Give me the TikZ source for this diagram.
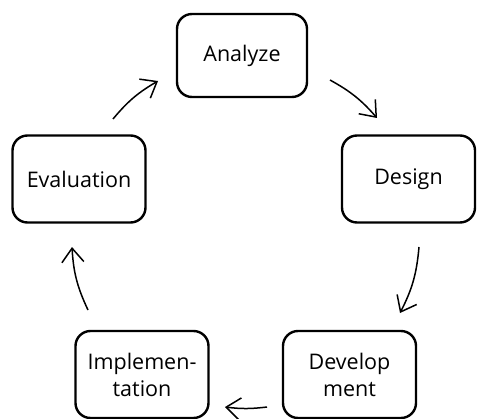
\documentclass[tikz,border=0pt]{standalone}
\usepackage{fontspec}
\setmainfont{Open Sans}
\usetikzlibrary{calc,arrows.meta}

\begin{document}
\begin{tikzpicture}[
		x=1pt,y=1pt,
		stage/.style={draw,rounded corners=15,line width=2.4,align=center,
			minimum width=133,minimum height=87,font=\fontsize{21.5}{27}\selectfont},
		cyc/.style={line width=1.5,-{Straight Barb[length=14,width=22,line width=1.5]}}]
		\useasboundingbox (0,0) rectangle (478,-419);
		\node[stage,minimum width=130,minimum height=83] (an) at (242,-55.5) {Analyze};
		\node[stage] (de) at (408.5,-179)   {Design};
		\node[stage] (dv) at (349.5,-374.5) {Develop\\ment};
		\node[stage] (im) at (142,-374.5)   {Implemen-\\tation};
		\node[stage] (ev) at (79,-179)      {Evaluation};

		\draw[cyc] ($ (an) + (88,-24.5) $) to[bend left=10] ($ (de) + (-31.5,61) $);
		\draw[cyc] ($ (de) + (10.5,-68) $) to[bend left=11] ($ (dv) + (50.5,61.5) $);
		\draw[cyc] ($ (dv) + (-82.5,-32.5) $) to[bend left=7] ($ (im) + (83,-32.5) $);
		\draw[cyc] ($ (im) + (-54,64.5) $) to[bend left=11] ($ (ev) + (-7,-68) $);
		\draw[cyc] ($ (ev) + (34,60) $) to[bend left=10] ($ (an) + (-84,-25.5) $);
\end{tikzpicture}
\end{document}
